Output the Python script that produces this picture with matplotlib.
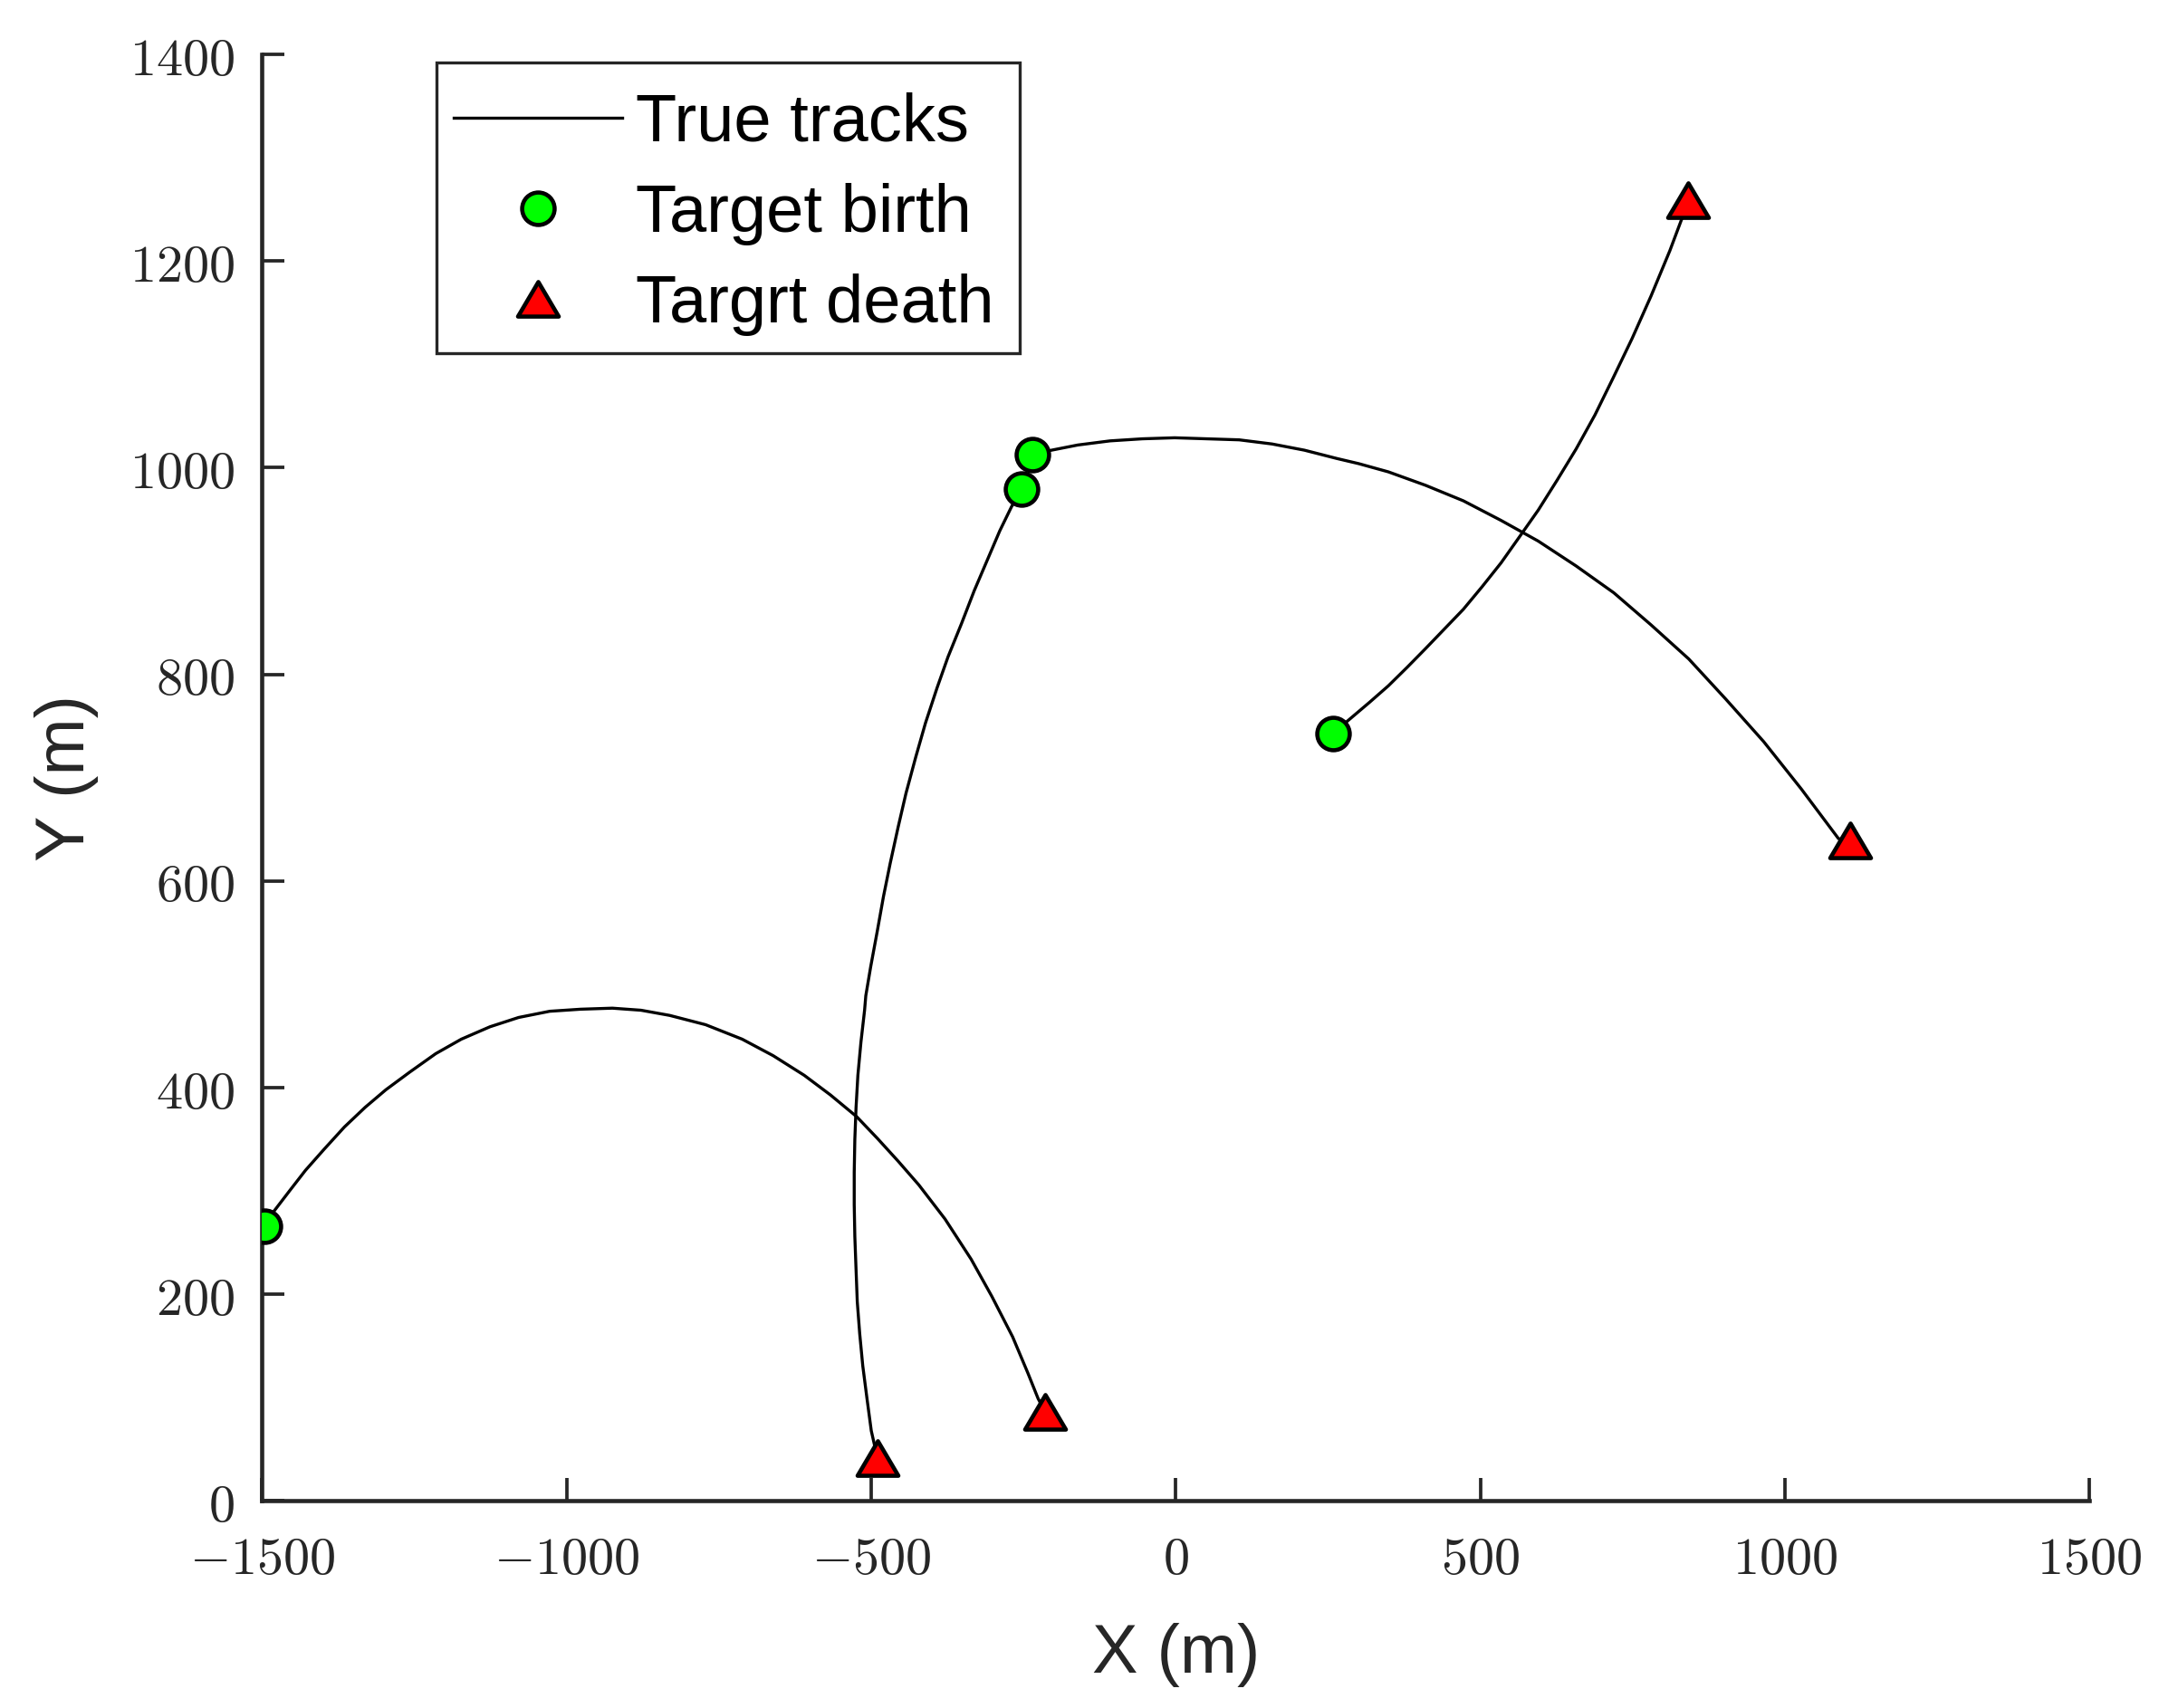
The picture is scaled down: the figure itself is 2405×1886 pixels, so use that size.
import matplotlib
matplotlib.use("Agg")
import matplotlib.pyplot as plt
from matplotlib.path import Path
from matplotlib.patches import Rectangle
from matplotlib.ticker import FuncFormatter
from matplotlib.lines import Line2D

plt.rcParams["mathtext.fontset"] = "cm"

# ---- data ----
track1_x = [-1497, -1480, -1454, -1429, -1399, -1365, -1331, -1297, -1258, -1215, -1173, -1126,
            -1079, -1028, -977, -925, -878, -831, -772, -712, -661, -610, -567, -524, -490,
            -456, -422, -379, -336, -302, -268, -243, -226, -214]
track1_y = [266, 281, 301, 320, 340, 362, 381, 398, 415, 433, 447, 459,
            468, 474, 476, 477, 475, 470, 461, 447, 431, 412, 393, 372, 351,
            329, 306, 273, 234, 198, 159, 124, 99, 86]

track2_x = [-254, -270, -289, -310, -331, -352, -374, -392, -411, -427, -443, -456, -469, -480,
            -490, -501, -509, -511, -517, -522, -525, -527, -528, -528, -527, -525, -523, -519,
            -514, -507, -500, -490]
track2_y = [979, 962, 939, 910, 881, 849, 817, 787, 753, 720, 685, 652, 617, 585,
            552, 517, 489, 475, 444, 412, 381, 350, 318, 287, 256, 224, 193, 162,
            131, 99, 68, 42]

track3_x = [-236, -204, -161, -108, -55, -2, 51, 104, 158, 211, 264, 300, 349, 410, 472,
            534, 595, 657, 719, 780, 842, 903, 965, 1027, 1088, 1107]
track3_y = [1013, 1017, 1022, 1026, 1028, 1029, 1028, 1027, 1023, 1017, 1009, 1004, 996, 983, 968,
            949, 929, 905, 879, 848, 815, 776, 735, 689, 641, 639]

track4_x = [258, 284, 318, 349, 380, 410, 441, 472, 503, 534, 564, 595, 626, 657, 688,
            718, 749, 780, 811, 832, 841]
track4_y = [743, 756, 773, 789, 807, 825, 844, 863, 885, 908, 933, 959, 988, 1018, 1051,
            1087, 1125, 1166, 1210, 1243, 1259]

tracks = [(track1_x, track1_y), (track2_x, track2_y), (track3_x, track3_y), (track4_x, track4_y)]

legend_labels = ["True tracks", "Target birth", "Targrt death"]
x_ticks = [-1500, -1000, -500, 0, 500, 1000, 1500]
y_ticks = [0, 200, 400, 600, 800, 1000, 1200, 1400]

# ---- style ----
AX_COLOR = "#262626"
SANS = ["Liberation Sans", "DejaVu Sans"]
tri_marker = Path([(0, 1), (-1.18, -1), (1.18, -1), (0, 1)],
                  [Path.MOVETO, Path.LINETO, Path.LINETO, Path.CLOSEPOLY])

fig = plt.figure(figsize=(2405 / 300, 1886 / 300), dpi=300)
ax = fig.add_axes([0.12037, 0.12116, 0.83900, 0.84698])

for tx, ty in tracks:
    ax.plot(tx, ty, color="black", lw=0.8, solid_joinstyle="round", solid_capstyle="round", zorder=2)

births_x = [t[0][0] for t in tracks]
births_y = [t[1][0] for t in tracks]
deaths_x = [t[0][-1] for t in tracks]
deaths_y = [t[1][-1] for t in tracks]

circ_kw = dict(marker="o", ms=8.6, mfc="#00ff00", mec="black", mew=1.1, ls="none")
tri_kw = dict(marker=tri_marker, ms=10.8, mfc="#ff0000", mec="black", mew=1.1, ls="none")
ax.plot(births_x, births_y, zorder=3, **circ_kw)
ax.plot(deaths_x, deaths_y, zorder=3, **tri_kw)

ax.set_xlim(-1500, 1500)
ax.set_ylim(0, 1400)
ax.set_xticks(x_ticks)
ax.set_yticks(y_ticks)
fmt = FuncFormatter(lambda v, p: r"$%d$" % int(round(v)))
ax.xaxis.set_major_formatter(fmt)
ax.yaxis.set_major_formatter(fmt)

for s in ["top", "right"]:
    ax.spines[s].set_visible(False)
for s in ["left", "bottom"]:
    ax.spines[s].set_color(AX_COLOR)
    ax.spines[s].set_linewidth(1.1)

ax.tick_params(axis="both", direction="in", length=6, width=0.9, color=AX_COLOR,
               labelcolor=AX_COLOR, labelsize=14)
ax.tick_params(axis="x", pad=8.5)
ax.tick_params(axis="y", pad=7.3)

ax.set_xlabel("X (m)", fontsize=18.2, family=SANS, color=AX_COLOR, labelpad=10)
ax.set_ylabel("Y (m)", fontsize=18.2, family=SANS, color=AX_COLOR, labelpad=8)

# legend frame (MATLAB style box)
frame = Rectangle((0.0955, 0.7935), 0.4147 - 0.0955, 0.9942 - 0.7935, transform=ax.transAxes,
                  facecolor="white", edgecolor=AX_COLOR, linewidth=0.8, zorder=4, clip_on=False)
ax.add_patch(frame)

handles = [
    Line2D([], [], color="black", lw=0.8),
    Line2D([], [], **circ_kw),
    Line2D([], [], **tri_kw),
]
leg = ax.legend(handles, legend_labels, loc="upper left", bbox_to_anchor=(0.10497, 0.9738),
                borderaxespad=0, borderpad=0, handlelength=2.5, handletextpad=0.2,
                labelspacing=0.42, frameon=False,
                prop={"family": SANS, "size": 17.8})
leg.set_zorder(5)
for t in leg.get_texts():
    t.set_color("black")

fig.savefig("out.png", dpi=300, facecolor="white")
